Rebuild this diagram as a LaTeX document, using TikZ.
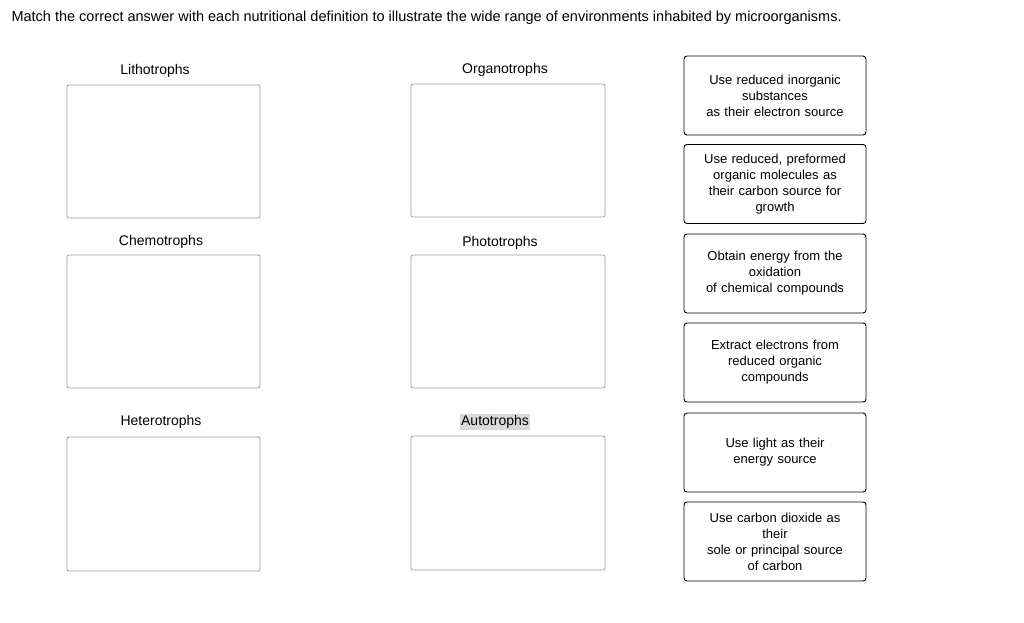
\documentclass[tikz,border=0pt]{standalone}
\usepackage{fontspec}
\setmainfont{Liberation Sans}
\begin{document}
\begin{tikzpicture}[x=1pt,y=-1pt,
  drop/.style={draw=gray!80,rounded corners=2pt,line width=0.8pt},
  card/.style={draw=black,rounded corners=3pt,line width=0.9pt,minimum width=182pt,minimum height=79pt,align=center,font=\fontsize{13}{16}\selectfont,text width=172pt},
  lab/.style={font=\fontsize{14}{16}\selectfont,inner sep=1pt}]
\useasboundingbox (0,0) rectangle (1024,622);
\node[anchor=west,font=\fontsize{14.5}{17}\selectfont] (title) at (8,18) {Match the correct answer with each nutritional definition to illustrate the wide range of environments inhabited by microorganisms.};
\draw[drop] (67,85) rectangle (260,218) coordinate (b1);
\draw[drop] (67,255) rectangle (260,388) coordinate (b2);
\draw[drop] (67,437) rectangle (260,571) coordinate (b3);
\draw[drop] (411,84) rectangle (605,217) coordinate (b4);
\draw[drop] (411,255) rectangle (605,388) coordinate (b5);
\draw[drop] (411,436) rectangle (605,570) coordinate (b6);
\node[lab] (l1) at (155,71) {Lithotrophs};
\node[lab] (l2) at (161,242) {Chemotrophs};
\node[lab] (l3) at (161,422) {Heterotrophs};
\node[lab] (l4) at (505,70) {Organotrophs};
\node[lab] (l5) at (500,243) {Phototrophs};
\node[lab,fill=gray!30] (l6) at (495,422) {Autotrophs};
\node[card] (c1) at (775,95.5) {Use reduced inorganic\\substances\\as their electron source};
\node[card] (c2) at (775,184) {Use reduced, preformed\\organic molecules as\\their carbon source for\\growth};
\node[card] (c3) at (775,273.5) {Obtain energy from the\\oxidation\\of chemical compounds};
\node[card] (c4) at (775,362.5) {Extract electrons from\\reduced organic\\compounds};
\node[card] (c5) at (775,452.5) {Use light as their\\energy source};
\node[card] (c6) at (775,541.5) {Use carbon dioxide as\\their\\sole or principal source\\of carbon};
\end{tikzpicture}
\end{document}
